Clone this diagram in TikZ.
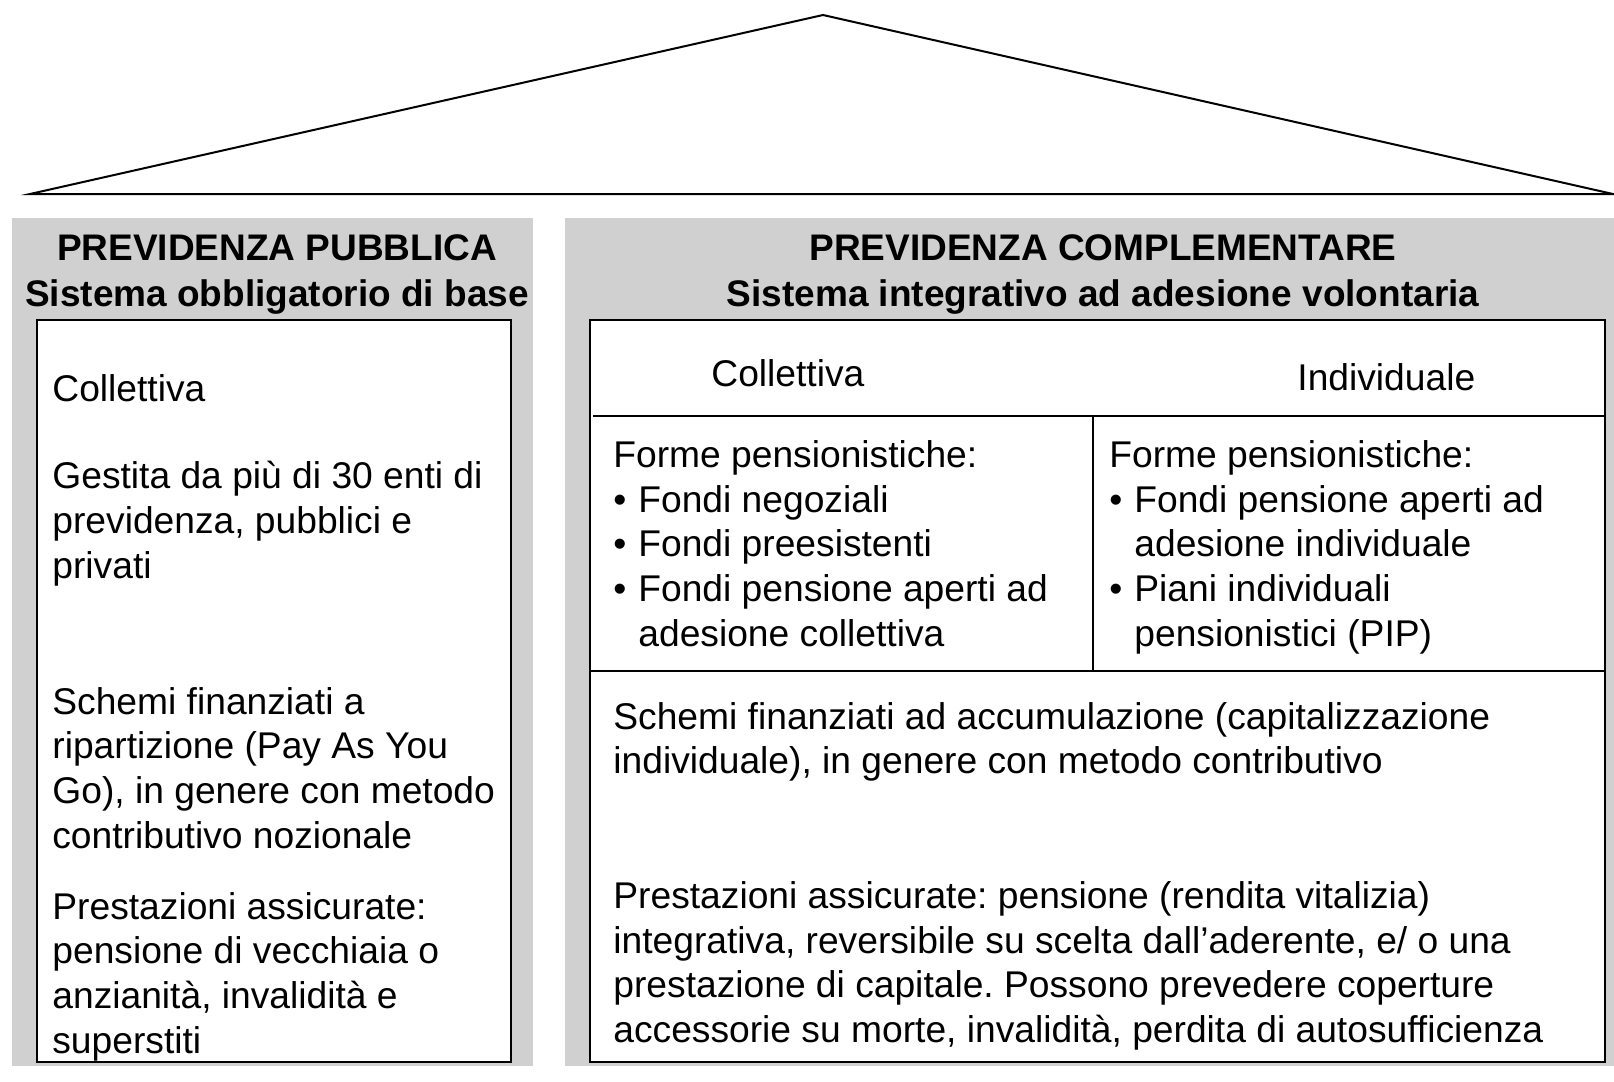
\documentclass[tikz,border=0pt]{standalone}
\usepackage{fontspec}
\setmainfont{Liberation Sans}
\definecolor{panelgray}{RGB}{208,208,208}
\tikzset{
  panel/.style={fill=panelgray, draw=none},
  whitebox/.style={fill=white, draw=black, line width=1.1pt},
  rule/.style={draw=black, line width=1.4pt},
  roof/.style={draw=black, line width=1pt, line join=miter},
  body/.style={anchor=north west, inner sep=0pt, align=left,
    font=\fontsize{18.6}{22.4}\selectfont\frenchspacing},
  head/.style={anchor=north, inner sep=0pt, align=center,
    font=\fontsize{18.5}{23}\selectfont\bfseries},
}
\newcommand\bul[1]{\makebox[12.5pt][l]{\textbullet}#1}
\newcommand\ind[1]{\hspace*{12.5pt}#1}
\begin{document}
\begin{tikzpicture}[x=0.5pt,y=-0.5pt]
\useasboundingbox (0,0) rectangle (1614,1082);
% roof
\coordinate (apex) at (823,15);
\coordinate (rl) at (30,194);
\coordinate (rr) at (1613,194);
\draw[roof] (rl) -- (apex) -- (rr) -- cycle;
% panels
\fill[panel] (12,218) rectangle (533,1066);
\fill[panel] (565,218) rectangle (1614,1066);
\draw[whitebox] (37,320) rectangle (511,1062);
\draw[whitebox] (590,320) rectangle (1605,1062);
% table rules
\coordinate (h1l) at (593,416);
\coordinate (h1r) at (1605,416);
\coordinate (h2l) at (590,671);
\coordinate (h2r) at (1605,671);
\coordinate (vt) at (1093,416);
\coordinate (vb) at (1093,671);
\draw[rule] (h1l) -- (h1r);
\draw[rule] (h2l) -- (h2r);
\draw[rule] (vt) -- (vb);
% headers
\node[head] (hpub) at (277,227.5) {\strut PREVIDENZA PUBBLICA\\Sistema obbligatorio di base};
\node[head] (hcom) at (1103,227.5) {\strut PREVIDENZA COMPLEMENTARE\\Sistema integrativo ad adesione volontaria};
% left box texts
\node[body] (l1) at (52,370) {\strut Collettiva};
\node[body] (l2) at (52,456.8) {\strut Gestita da più di 30 enti di\\previdenza, pubblici e\\privati};
\node[body] (l3) at (52,682.3) {\strut Schemi finanziati a\\ripartizione (Pay As You\\Go), in genere con metodo\\contributivo nozionale};
\node[body] (l4) at (52,887.3) {\strut Prestazioni assicurate:\\pensione di vecchiaia o\\anzianità, invalidità e\\superstiti};
% right box texts
\node[body] (rc) at (711,355) {\strut Collettiva};
\node[body] (ri) at (1297,359) {\strut Individuale};
\node[body] (rf1) at (613,435.5) {\strut Forme pensionistiche:\\\bul{Fondi negoziali}\\\bul{Fondi preesistenti}\\\bul{Fondi pensione aperti ad}\\\ind{adesione collettiva}};
\node[body] (rf2) at (1109,435.5) {\strut Forme pensionistiche:\\\bul{Fondi pensione aperti ad}\\\ind{adesione individuale}\\\bul{Piani individuali}\\\ind{pensionistici (PIP)}};
\node[body] (rs) at (613,697.3) {\strut Schemi finanziati ad accumulazione (capitalizzazione\\individuale), in genere con metodo contributivo};
\node[body] (rp) at (613,876.5) {\strut Prestazioni assicurate: pensione (rendita vitalizia)\\integrativa, reversibile su scelta dall’aderente, e/ o una\\prestazione di capitale. Possono prevedere coperture\\accessorie su morte, invalidità, perdita di autosufficienza};
\end{tikzpicture}
\end{document}
